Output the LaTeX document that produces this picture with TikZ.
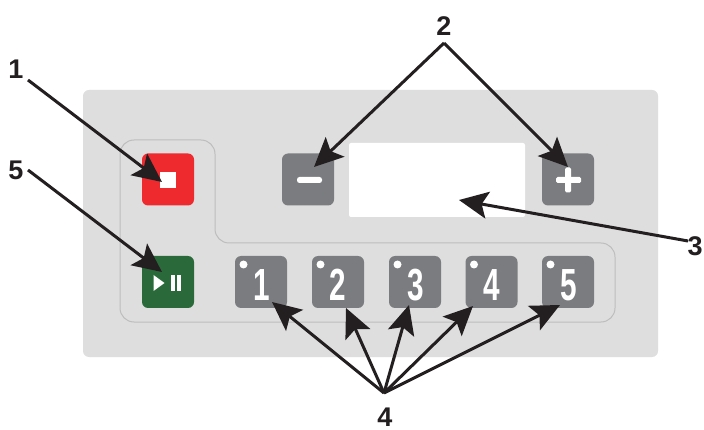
\documentclass[tikz,border=0pt]{standalone}
\usepackage{fontspec}
\setmainfont{Liberation Sans}
\usetikzlibrary{arrows.meta}
\definecolor{panel}{HTML}{DEDEDE}
\definecolor{outlinegray}{HTML}{BDBDBD}
\definecolor{btngray}{HTML}{7B7C7F}
\definecolor{btnred}{HTML}{EE2A2E}
\definecolor{btngreen}{HTML}{2A6A3A}
\definecolor{inkblack}{HTML}{231F20}
\tikzset{
  btn/.style={minimum width=52pt,minimum height=52pt,rounded corners=6pt,inner sep=0pt,fill=#1},
  numbtn/.style={btn=btngray},
  lbl/.style={font=\bfseries\fontsize{27}{27}\selectfont,text=inkblack,inner sep=0pt},
  ptr/.style={draw=inkblack,line width=3pt,-{Stealth[length=29pt,width=27pt,inset=6pt]}},
  led/.style={circle,fill=white,inner sep=0pt,minimum size=8pt},
  glyph/.style={fill=white,draw=none}
}
\begin{document}
\begin{tikzpicture}[x=1pt,y=-1pt]
\useasboundingbox (0,0) rectangle (704,430);
\fill[white] (0,0) rectangle (704,430);
\fill[panel,rounded corners=6pt] (83,90) rectangle (658,357);
\draw[outlinegray,line width=1pt,rounded corners=14pt]
  (120,140) -- (215,140) -- (215,243) -- (615,243) -- (615,322) -- (120,322) -- cycle;
\node[fill=white,rounded corners=2pt,minimum width=176pt,minimum height=74pt,inner sep=0pt] (display) at (437,180) {};
\node[btn=btnred] (stopbtn) at (168,179.5) {};
\fill[glyph] (160,172) rectangle (176,188);
\node[btn=btngreen] (playbtn) at (168,282) {};
\fill[glyph] (153.5,275) -- (164.5,283) -- (153.5,291) -- cycle;
\fill[glyph] (171,275) rectangle (175,291);
\fill[glyph] (176.5,275) rectangle (180.5,291);
\node[btn=btngray] (minusbtn) at (308,179.5) {};
\fill[glyph,rounded corners=2.5pt] (297,177) rectangle (322,183);
\node[btn=btngray] (plusbtn) at (568,179.5) {};
\fill[glyph,rounded corners=1.5pt] (556,177) rectangle (581,183);
\fill[glyph,rounded corners=1.5pt] (565,167.5) rectangle (571,192.5);
\foreach \nm/\cx/\dx/\d in {a/261/262/1,b/338/338/2,c/415/416/3,d/491.5/492/4,e/568/569/5}{
  \node[numbtn] (num\nm) at (\cx,282) {};
  \node[text=white,inner sep=0pt,font=\bfseries\fontsize{45}{45}\selectfont,xscale=.66] (dig\nm) at (\dx,285) {\d};
  \node[led] (led\nm) at (\cx-17.5,264.5) {};
}
\node[lbl] (l1) at (16,69) {1};
\node[lbl] (l5) at (16,170) {5};
\node[lbl] (l2) at (444,26) {2};
\node[lbl] (l3) at (695,246) {3};
\node[lbl] (l4) at (385,417.5) {4};
\coordinate (f1) at (28,80);
\coordinate (f5) at (28,170);
\coordinate (f2) at (444,43);
\coordinate (f3) at (688,241);
\coordinate (f4) at (384,393);
\coordinate (t1) at (162,182);
\coordinate (t5) at (162,272);
\coordinate (t2a) at (314,167);
\coordinate (t2b) at (568,167);
\coordinate (t3) at (459,200);
\coordinate (t4a) at (272,302);
\coordinate (t4b) at (346,308);
\coordinate (t4c) at (409,305);
\coordinate (t4d) at (473,306);
\coordinate (t4e) at (560,305);
\draw[ptr] (f1) -- (t1);
\draw[ptr] (f5) -- (t5);
\draw[ptr] (f2) -- (t2a);
\draw[ptr] (f2) -- (t2b);
\draw[ptr] (f3) -- (t3);
\draw[ptr] (f4) -- (t4a);
\draw[ptr] (f4) -- (t4b);
\draw[ptr] (f4) -- (t4c);
\draw[ptr] (f4) -- (t4d);
\draw[ptr] (f4) -- (t4e);
\end{tikzpicture}
\end{document}
